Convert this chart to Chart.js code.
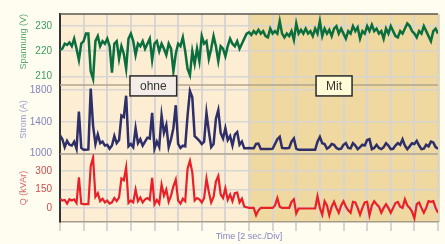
<!DOCTYPE html>
<html>
<head>
<meta charset="utf-8">
<script src="https://cdn.jsdelivr.net/npm/chart.js"></script>
<style>
  html, body { margin: 0; padding: 0; background: #fffdf0; }
  #wrap { width: 445px; height: 244px; }
</style>
</head>
<body>
<div id="wrap"><canvas id="netChart" width="445" height="244"></canvas></div>
<script>
// time axis: 2 sec per division, one sample every 0.2 s
const sampleStep = 0.2;
const switchTime = 16; // compensation switched on ("Mit")

const spannung = [
  220.5, 221, 223, 222.5, 223.5, 222, 225, 221, 216.5, 223,
  224, 227, 227, 212, 209, 224, 226, 222, 224, 223,
  225, 222, 211.5, 223, 224, 217, 222, 219, 213, 225,
  227, 224, 218.5, 223, 222, 224, 221, 223, 225, 216.5,
  223, 224, 220, 223, 221, 218.5, 223, 221, 212, 219,
  223, 222, 225.5, 220, 213, 210.5, 220, 215, 221, 216,
  226, 223, 224, 217, 221, 226, 222, 216, 222, 221,
  218, 222, 225, 223, 222, 224, 221, 223, 225, 227,
  227.5, 226.5, 228, 227, 228.5, 227, 228, 226, 225.5, 229,
  227, 228, 227, 232, 227, 225.5, 227, 226, 228, 224.5,
  231, 227, 228.5, 227, 229, 227, 228, 226, 229, 227,
  232, 226, 229, 227, 228.5, 226, 229, 230, 227, 229,
  227, 225, 228, 227, 230, 228, 229.5, 225, 228, 227,
  230, 228, 230.5, 228, 229, 227, 228, 225, 229, 227,
  230, 228, 226, 225.5, 228, 227, 229, 231, 230, 228,
  227, 225.5, 228, 227, 230, 228, 226, 224, 228, 229,
  227
];

const strom = [
  1230, 1180, 1080, 1160, 1110, 1100, 1150, 1060, 1530, 1070,
  1046, 1046, 1050, 1820, 1350, 1120, 1240, 1130, 1150, 1100,
  1110, 1060, 1100, 1220, 1130, 1170, 1480, 1460, 1730, 1090,
  1120, 1080, 1320, 1130, 1180, 1100, 1150, 1200, 1190, 1515,
  1060, 1150, 1080, 1480, 1260, 1360, 1080, 1180, 1320, 1610,
  1120, 1070, 1100, 1090, 1480, 1790, 1710, 1220, 1190, 1160,
  1120, 1150, 1515, 1280, 1080, 1120, 1440, 1550, 1260, 1190,
  1320, 1170, 1220, 1100, 1240, 1270, 1110, 1150, 1065, 1065,
  1070, 1065, 1065, 1120, 1125, 1055, 1055, 1055, 1055, 1055,
  1060, 1120, 1180, 1210, 1070, 1065, 1065, 1070, 1150, 1190,
  1060, 1046, 1046, 1046, 1046, 1046, 1046, 1046, 1046, 1150,
  1210, 1130, 1120, 1060, 1080, 1120, 1110, 1070, 1055, 1060,
  1110, 1130, 1070, 1065, 1130, 1100, 1055, 1080, 1110, 1100,
  1170, 1180, 1055, 1070, 1110, 1070, 1055, 1080, 1130, 1100,
  1055, 1060, 1100, 1130, 1110, 1180, 1100, 1055, 1090, 1130,
  1120, 1160, 1100, 1055, 1060, 1110, 1090, 1150, 1140, 1080,
  1060
];

const blindleistung = [
  75, 60, 65, 35, 70, 60, 70, 40, 250, 35,
  30, 30, 30, 340, 410, 90, 120, 55, 75, 45,
  60, 35, 45, 80, 55, 85, 240, 225, 330, 40,
  60, 45, 150, 55, 85, 45, 70, 80, 65, 245,
  30, 65, 35, 190, 100, 150, 50, 100, 175, 230,
  60, 35, 75, 55, 320, 385, 290, 60, 80, 70,
  45, 80, 240, 130, 45, 90, 215, 260, 110, 80,
  160, 65, 110, 55, 120, 125, 45, 75, 10, 5,
  0, 0, 0, -60, -20, 0, 0, 0, 0, 0,
  0, 20, 80, 10, 0, 0, 0, 0, 50, 70,
  -45, -5, -5, -5, -5, -5, -5, -5, -5, 95,
  0, -55, 55, 20, -60, 10, 50, 0, -40, 20,
  55, 10, -20, -40, 50, 45, 0, -55, 0, 45,
  50, -60, 20, 55, 30, 10, -40, 0, 30, 0,
  -40, 0, 40, 48, 10, 0, 70, 20, 0, -30,
  -85, 30, 45, 0, -40, 0, 55, 50, 55, 0,
  -40
];

const spannungTicks = [210, 220, 230];
const stromTicks = [1000, 1400, 1800];
const qTicks = [0, 150, 300];

const phaseLabels = ["ohne", "Mit"];
const phaseLabelTimes = [7.9, 23.2];
const phaseBoxColors = ["#f3ece7", "#fffbd6"];

const gridColor = "rgba(214, 212, 210, 0.95)";

function toPoints(values) {
  return values.map((v, i) => ({ x: i * sampleStep, y: v }));
}

// backgrounds, panel separators and the ohne / Mit boxes
const scopeDecor = {
  id: "scopeDecor",
  beforeDraw(chart) {
    const { ctx, chartArea: a, scales } = chart;
    const xs = scales.x.getPixelForValue(switchTime);
    ctx.save();
    ctx.fillStyle = "#fffdf0";
    ctx.fillRect(0, 0, chart.width, chart.height);
    ctx.fillStyle = "#fdeed3";
    ctx.fillRect(a.left, a.top, xs - a.left, a.bottom - a.top);
    ctx.fillStyle = "#efd9a0";
    ctx.fillRect(xs, a.top, a.right - xs + 2, a.bottom - a.top);
    ctx.restore();
  },
  beforeDatasetsDraw(chart) {
    const { ctx, chartArea: a, scales } = chart;
    ctx.save();
    ctx.lineWidth = 1.5;
    ctx.strokeStyle = "#b0a690";
    [scales.yU.bottom, scales.yI.bottom].forEach((y) => {
      ctx.beginPath();
      ctx.moveTo(a.left, y);
      ctx.lineTo(a.right, y);
      ctx.stroke();
    });
    ctx.strokeStyle = "#5a5650";
    ctx.beginPath();
    ctx.moveTo(a.left, a.top);
    ctx.lineTo(a.right, a.top);
    ctx.stroke();
    ctx.restore();
  },
  afterDatasetsDraw(chart) {
    const { ctx, scales } = chart;
    const yMid = scales.yU.bottom + 1;
    ctx.save();
    ctx.font = "12px 'Liberation Sans', Arial, sans-serif";
    ctx.textAlign = "center";
    ctx.textBaseline = "middle";
    phaseLabels.forEach((txt, i) => {
      const cx = scales.x.getPixelForValue(phaseLabelTimes[i]);
      const w = ctx.measureText(txt).width + 20;
      const h = 20;
      ctx.fillStyle = phaseBoxColors[i];
      ctx.fillRect(cx - w / 2, yMid - h / 2, w, h);
      ctx.strokeStyle = "#2a2a2a";
      ctx.lineWidth = 1.5;
      ctx.strokeRect(cx - w / 2, yMid - h / 2, w, h);
      ctx.fillStyle = "#333";
      ctx.fillText(txt, cx, yMid + 1);
    });
    ctx.restore();
  }
};

function panelAxis(opts) {
  return {
    type: "linear",
    position: "left",
    stack: "panels",
    stackWeight: opts.weight,
    min: opts.min,
    max: opts.max,
    afterBuildTicks: (s) => { s.ticks = opts.ticks.map((v) => ({ value: v })); },
    afterFit: (s) => { s.width = 46; },
    ticks: { color: opts.tickColor, font: { size: 10 }, padding: 8, callback: (v) => String(v) },
    grid: { color: gridColor, lineWidth: 1.5, drawTicks: false },
    border: { color: "#333", width: 2 },
    title: {
      display: true,
      text: opts.title,
      color: opts.titleColor,
      align: opts.align || "center",
      font: { size: 9 },
      padding: { top: 4, bottom: 0 }
    }
  };
}

const ctx = document.getElementById("netChart").getContext("2d");
Chart.defaults.font.family = "'Liberation Sans', Arial, sans-serif";

new Chart(ctx, {
  type: "line",
  data: {
    datasets: [
      { label: "Q", data: toPoints(blindleistung), yAxisID: "yQ", borderColor: "#e8202a", borderWidth: 2.2 },
      { label: "Strom", data: toPoints(strom), yAxisID: "yI", borderColor: "#2e2f68", borderWidth: 2.5 },
      { label: "Spannung", data: toPoints(spannung), yAxisID: "yU", borderColor: "#0b6e3e", borderWidth: 2.5 }
    ]
  },
  options: {
    responsive: false,
    animation: false,
    layout: { padding: { left: 14, top: 5, right: 7, bottom: 2 } },
    elements: { point: { radius: 0 }, line: { tension: 0 } },
    plugins: { legend: { display: false }, tooltip: { enabled: false } },
    scales: {
      x: {
        type: "linear",
        min: 0,
        max: 32,
        ticks: { display: false, stepSize: 2 },
        grid: { color: gridColor, lineWidth: 2, tickLength: 9 },
        border: { color: "#a59c8a", width: 1.5 },
        afterFit: (s) => { s.height = 20; },
        title: {
          display: true,
          text: "Time [2 sec./Div]",
          color: "#8585c4",
          font: { size: 9 },
          padding: { top: 1, bottom: 0 }
        }
      },
      // first defined ends up at the bottom of the stack
      yQ: panelAxis({ weight: 71, min: -115, max: 440, ticks: qTicks, tickColor: "#d04a4a", title: "Q (kVAr)", titleColor: "#d86a6a" }),
      yI: panelAxis({ weight: 72, min: 994, max: 1867, ticks: stromTicks, tickColor: "#8282c2", title: "Strom (A)", titleColor: "#9c9cd0" }),
      yU: panelAxis({ weight: 74, min: 206.6, max: 234.8, ticks: spannungTicks, tickColor: "#3c9c60", title: "Spannung (V)", titleColor: "#5aaa72", align: "end" })
    }
  },
  plugins: [scopeDecor]
});
</script>
</body>
</html>
